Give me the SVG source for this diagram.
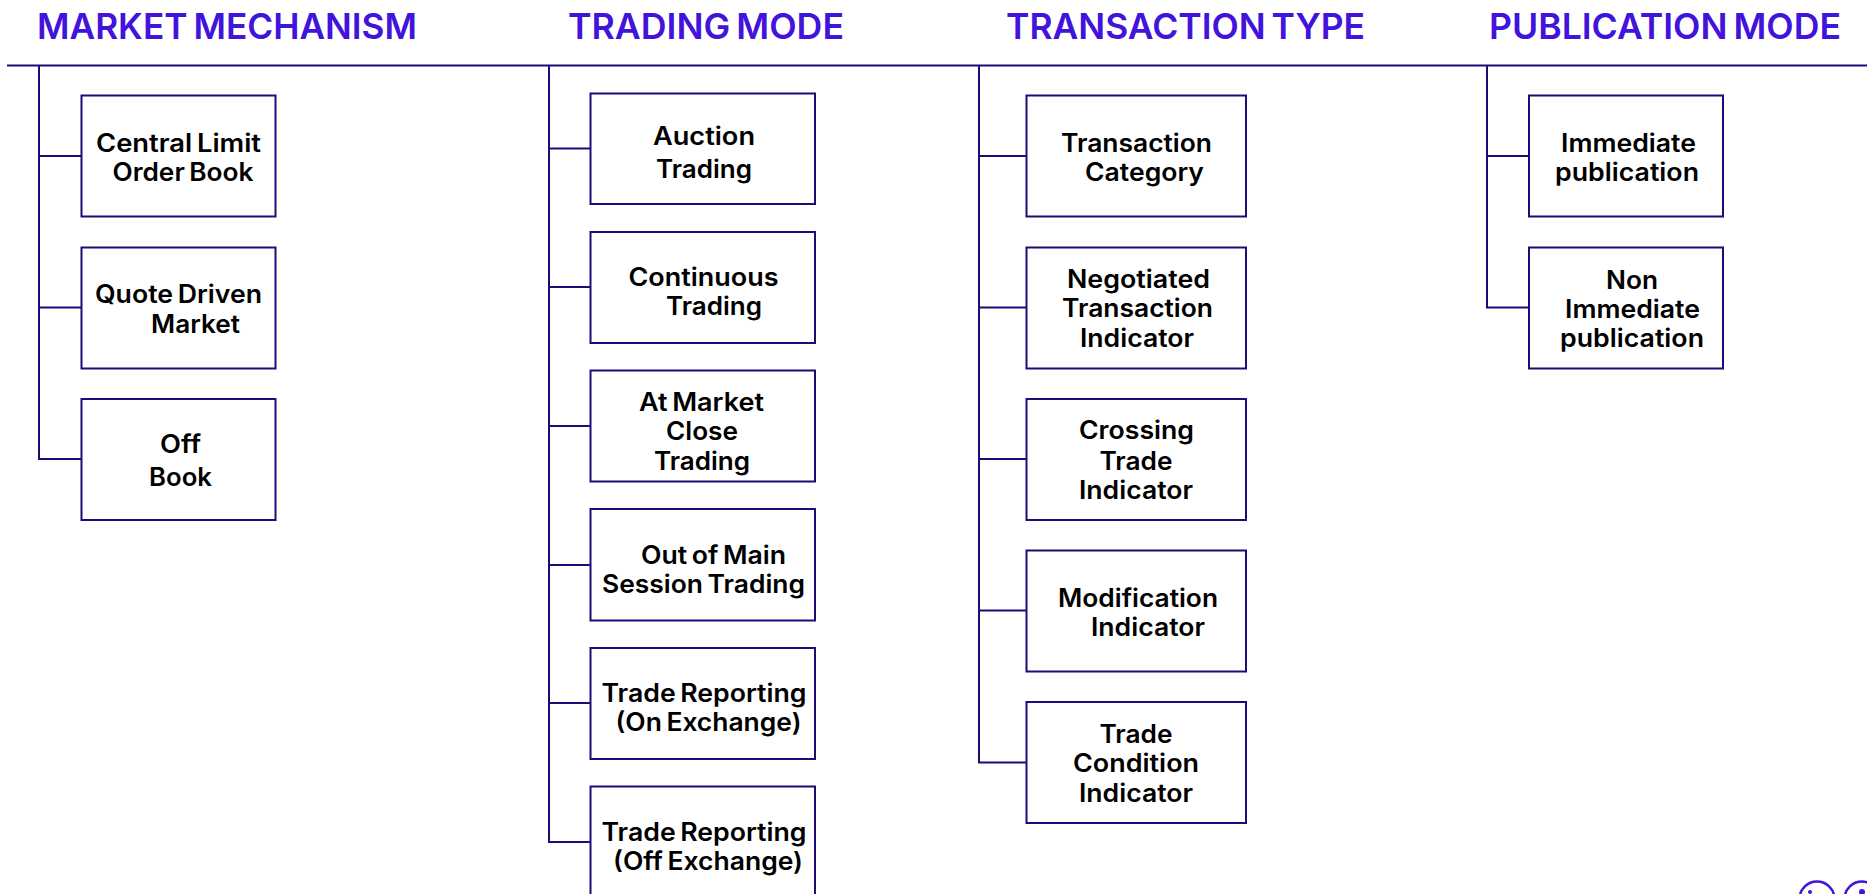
<svg xmlns="http://www.w3.org/2000/svg" width="1867" height="894" viewBox="0 0 1867 894">
<style>
.h{font:620 36px Inter,"Liberation Sans",sans-serif;fill:#4213DB;word-spacing:-3px}
.t{font:580 25px Inter,"Liberation Sans",sans-serif;fill:#000;word-spacing:-2px}
.b{fill:#fff;stroke:#1F0A78;stroke-width:2}
.c{fill:none;stroke:#1F0A78;stroke-width:2}
.i{fill:none;stroke:#4213DB;stroke-width:2.5}
.d{fill:#4213DB}
</style>
<rect width="1867" height="894" fill="#fff"/>
<g id="connectors">
<path class="c" d="M7 65.500H1867"/>
<path class="c" d="M39 65V459H81M39 156H81M39 307.500H81"/>
<path class="c" d="M549 65V842H591M549 148.500H591M549 287H591M549 426H591M549 565H591M549 703H591"/>
<path class="c" d="M979 65V762.500H1026M979 156H1026M979 307.500H1026M979 459H1026M979 610.500H1026"/>
<path class="c" d="M1487 65V307.500H1529M1487 156H1529"/>
</g>
<g id="h1"><text class="h" x="37" y="39" textLength="380" lengthAdjust="spacingAndGlyphs">MARKET MECHANISM</text></g>
<g id="h2"><text class="h" x="568" y="39" textLength="276" lengthAdjust="spacingAndGlyphs">TRADING MODE</text></g>
<g id="h3"><text class="h" x="1006" y="39" textLength="359" lengthAdjust="spacingAndGlyphs">TRANSACTION TYPE</text></g>
<g id="h4"><text class="h" x="1489" y="39" textLength="352" lengthAdjust="spacingAndGlyphs">PUBLICATION MODE</text></g>

<g id="n1"><rect class="b" x="81.500" y="95.500" width="194" height="121"/><text class="t" x="96" y="152" textLength="165" lengthAdjust="spacingAndGlyphs">Central Limit</text><text class="t" x="112.500" y="181" textLength="141" lengthAdjust="spacingAndGlyphs">Order Book</text></g>
<g id="n2"><rect class="b" x="81.500" y="247.500" width="194" height="121"/><text class="t" x="95" y="303" textLength="167" lengthAdjust="spacingAndGlyphs">Quote Driven</text><text class="t" x="151" y="333" textLength="89" lengthAdjust="spacingAndGlyphs">Market</text></g>
<g id="n3"><rect class="b" x="81.500" y="399" width="194" height="121"/><text class="t" x="160" y="453" textLength="41" lengthAdjust="spacingAndGlyphs">Off</text><text class="t" x="149" y="486" textLength="63" lengthAdjust="spacingAndGlyphs">Book</text></g>

<g id="n4"><rect class="b" x="590.500" y="93.500" width="224.500" height="110.500"/><text class="t" x="653" y="145" textLength="102" lengthAdjust="spacingAndGlyphs">Auction</text><text class="t" x="656" y="178" textLength="96" lengthAdjust="spacingAndGlyphs">Trading</text></g>
<g id="n5"><rect class="b" x="590.500" y="232" width="224.500" height="111"/><text class="t" x="628.500" y="286" textLength="150" lengthAdjust="spacingAndGlyphs">Continuous</text><text class="t" x="666" y="315" textLength="96" lengthAdjust="spacingAndGlyphs">Trading</text></g>
<g id="n6"><rect class="b" x="590.500" y="370.500" width="224.500" height="111"/><text class="t" x="639" y="411" textLength="125" lengthAdjust="spacingAndGlyphs">At Market</text><text class="t" x="666" y="440" textLength="72" lengthAdjust="spacingAndGlyphs">Close</text><text class="t" x="654" y="470" textLength="96" lengthAdjust="spacingAndGlyphs">Trading</text></g>
<g id="n7"><rect class="b" x="590.500" y="509" width="224.500" height="111.500"/><text class="t" x="641" y="564" textLength="145" lengthAdjust="spacingAndGlyphs">Out of Main</text><text class="t" x="602" y="593" textLength="203" lengthAdjust="spacingAndGlyphs">Session Trading</text></g>
<g id="n8"><rect class="b" x="590.500" y="648" width="224.500" height="111"/><text class="t" x="601.500" y="702" textLength="205" lengthAdjust="spacingAndGlyphs">Trade Reporting</text><text class="t" x="615.500" y="731" textLength="186" lengthAdjust="spacingAndGlyphs">(On Exchange)</text></g>
<g id="n9"><rect class="b" x="590.500" y="786.500" width="224.500" height="120"/><text class="t" x="601.500" y="841" textLength="205" lengthAdjust="spacingAndGlyphs">Trade Reporting</text><text class="t" x="613" y="870" textLength="190" lengthAdjust="spacingAndGlyphs">(Off Exchange)</text></g>

<g id="n10"><rect class="b" x="1026.500" y="95.500" width="219.500" height="121"/><text class="t" x="1061" y="152" textLength="151" lengthAdjust="spacingAndGlyphs">Transaction</text><text class="t" x="1085" y="181" textLength="119" lengthAdjust="spacingAndGlyphs">Category</text></g>
<g id="n11"><rect class="b" x="1026.500" y="247.500" width="219.500" height="121"/><text class="t" x="1067" y="288" textLength="143" lengthAdjust="spacingAndGlyphs">Negotiated</text><text class="t" x="1062" y="317" textLength="151" lengthAdjust="spacingAndGlyphs">Transaction</text><text class="t" x="1080" y="347" textLength="114" lengthAdjust="spacingAndGlyphs">Indicator</text></g>
<g id="n12"><rect class="b" x="1026.500" y="399" width="219.500" height="121"/><text class="t" x="1079" y="439" textLength="115" lengthAdjust="spacingAndGlyphs">Crossing</text><text class="t" x="1099.500" y="470" textLength="73" lengthAdjust="spacingAndGlyphs">Trade</text><text class="t" x="1079" y="499" textLength="114" lengthAdjust="spacingAndGlyphs">Indicator</text></g>
<g id="n13"><rect class="b" x="1026.500" y="550.500" width="219.500" height="121"/><text class="t" x="1058" y="607" textLength="160" lengthAdjust="spacingAndGlyphs">Modification</text><text class="t" x="1091" y="636" textLength="114" lengthAdjust="spacingAndGlyphs">Indicator</text></g>
<g id="n14"><rect class="b" x="1026.500" y="702" width="219.500" height="121"/><text class="t" x="1099.500" y="743" textLength="73" lengthAdjust="spacingAndGlyphs">Trade</text><text class="t" x="1073" y="772" textLength="126" lengthAdjust="spacingAndGlyphs">Condition</text><text class="t" x="1079" y="802" textLength="114" lengthAdjust="spacingAndGlyphs">Indicator</text></g>

<g id="n15"><rect class="b" x="1529" y="95.500" width="194" height="121"/><text class="t" x="1561" y="152" textLength="135" lengthAdjust="spacingAndGlyphs">Immediate</text><text class="t" x="1555" y="181" textLength="144" lengthAdjust="spacingAndGlyphs">publication</text></g>
<g id="n16"><rect class="b" x="1529" y="247.500" width="194" height="121"/><text class="t" x="1606" y="289" textLength="52" lengthAdjust="spacingAndGlyphs">Non</text><text class="t" x="1565" y="318" textLength="135" lengthAdjust="spacingAndGlyphs">Immediate</text><text class="t" x="1560" y="347" textLength="144" lengthAdjust="spacingAndGlyphs">publication</text></g>

<g id="logo"><circle class="i" cx="1817" cy="899" r="17.500"/><circle class="d" cx="1810" cy="892" r="2"/><circle class="i" cx="1862" cy="899" r="17.500"/><circle class="d" cx="1862" cy="892" r="3"/></g>
</svg>
